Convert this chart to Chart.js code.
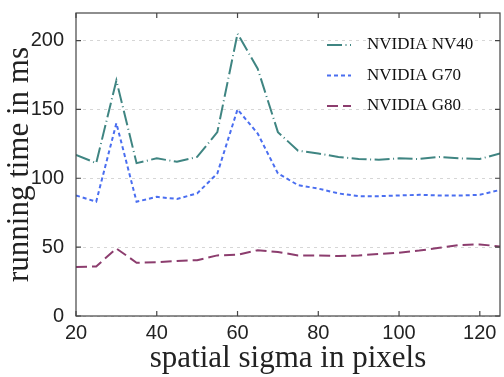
<!DOCTYPE html>
<html>
<head>
<meta charset="utf-8">
<script src="https://cdn.jsdelivr.net/npm/chart.js@4.4.1/dist/chart.umd.min.js"></script>
<style>
    html, body { margin: 0; padding: 0; background: #fff; }
    #wrap { width: 504px; height: 377px; }
</style>
</head>
<body>
<div id="wrap"><canvas id="timingChart" width="504" height="377"></canvas></div>
<script>
// spatial sigma (pixels) sampled every 5
const sigmas = [20, 25, 30, 35, 40, 45, 50, 55, 60, 65, 70, 75, 80, 85, 90, 95, 100, 105, 110, 115, 120, 125];

// running times in ms
const nv40 = [117, 111, 171, 111, 114.5, 112, 115.5, 133.5, 205, 179.5, 133.5, 120, 118, 115.5, 114, 113.5, 114.5, 114, 115.5, 114.5, 114, 118];
const g70  = [87.5, 83, 140, 83, 86.5, 85, 89, 103.5, 150, 132.5, 103.5, 95, 92.5, 89, 87, 87, 87.5, 88, 87.5, 87.5, 88, 91.5];
const g80  = [35.5, 36, 49, 38.7, 39, 40, 40.5, 44, 44.5, 47.8, 46.5, 44, 44, 43.5, 44, 45, 46, 47.5, 49.5, 51.5, 52, 50.5];

const seriesNames = ['NVIDIA NV40', 'NVIDIA G70', 'NVIDIA G80'];
const xTicks = [20, 40, 60, 80, 100, 120];
const yTicks = [0, 50, 100, 150, 200];

const SERIF = '"Liberation Serif", "DejaVu Serif", serif';
const SANS = '"Liberation Sans", Arial, sans-serif';

function toPoints(values) {
    return sigmas.map((s, i) => ({ x: s, y: values[i] }));
}

const lineStyles = [
    { color: '#3f8582', dash: [15, 3.5, 1, 3.5] },
    { color: '#4a6ef0', dash: [4, 3] },
    { color: '#8c3d6e', dash: [11, 5] }
];

// box with inward tick marks, like the original figure
const framePlugin = {
    id: 'frame',
    afterDatasetsDraw(chart) {
        const { ctx, chartArea: a, scales } = chart;
        ctx.save();
        ctx.strokeStyle = '#444';
        ctx.lineWidth = 1.2;
        ctx.setLineDash([]);
        ctx.strokeRect(a.left, a.top, a.right - a.left, a.bottom - a.top);
        const len = 5;
        ctx.beginPath();
        xTicks.forEach(v => {
            const px = scales.x.getPixelForValue(v);
            ctx.moveTo(px, a.bottom); ctx.lineTo(px, a.bottom - len);
            ctx.moveTo(px, a.top); ctx.lineTo(px, a.top + len);
        });
        yTicks.forEach(v => {
            const py = scales.y.getPixelForValue(v);
            ctx.moveTo(a.left, py); ctx.lineTo(a.left + len, py);
            ctx.moveTo(a.right, py); ctx.lineTo(a.right - len, py);
        });
        ctx.stroke();
        ctx.restore();
    }
};

// legend drawn inside the plot, top right
const legendPlugin = {
    id: 'insideLegend',
    afterDraw(chart) {
        const ctx = chart.ctx;
        ctx.save();
        ctx.font = '17px ' + SERIF;
        ctx.textBaseline = 'middle';
        chart.data.datasets.forEach((ds, i) => {
            const y = 45 + i * 30.5;
            ctx.strokeStyle = ds.borderColor;
            ctx.lineWidth = 2;
            ctx.setLineDash(ds.borderDash);
            ctx.beginPath();
            ctx.moveTo(327, y);
            ctx.lineTo(351, y);
            ctx.stroke();
            ctx.setLineDash([]);
            ctx.fillStyle = '#111';
            ctx.fillText(ds.label, 367, y);
        });
        ctx.restore();
    }
};

const datasets = [nv40, g70, g80].map((vals, i) => ({
    label: seriesNames[i],
    data: toPoints(vals),
    borderColor: lineStyles[i].color,
    borderDash: lineStyles[i].dash,
    borderWidth: 2,
    tension: 0,
    pointRadius: 0,
    fill: false
}));

new Chart(document.getElementById('timingChart'), {
    type: 'line',
    data: { datasets },
    plugins: [framePlugin, legendPlugin],
    options: {
        responsive: false,
        animation: false,
        layout: { padding: { top: 13, right: 4, left: 0, bottom: 0 } },
        plugins: {
            legend: { display: false },
            tooltip: { enabled: false }
        },
        scales: {
            x: {
                type: 'linear',
                min: 20,
                max: 125,
                afterBuildTicks: scale => { scale.ticks = xTicks.map(v => ({ value: v })); },
                afterFit: scale => {
                    scale.height = 61;
                    scale.paddingLeft = 0;
                    scale.paddingRight = 0;
                },
                grid: { display: false, drawTicks: false },
                border: { display: false },
                ticks: {
                    color: '#222',
                    font: { family: SANS, size: 20 },
                    padding: 5,
                    maxRotation: 0
                },
                title: {
                    display: true,
                    text: 'spatial sigma in pixels',
                    color: '#222',
                    font: { family: SERIF, size: 31 },
                    padding: 0
                }
            },
            y: {
                min: 0,
                max: 220,
                afterBuildTicks: scale => { scale.ticks = yTicks.map(v => ({ value: v })); },
                afterFit: scale => {
                    scale.width = 76;
                    scale.paddingTop = 0;
                    scale.paddingBottom = 0;
                },
                grid: {
                    color: '#d6d6d6',
                    drawTicks: false
                },
                border: { display: false, dash: [3, 4] },
                ticks: {
                    color: '#222',
                    font: { family: SANS, size: 20 },
                    padding: 12
                },
                title: {
                    display: true,
                    text: 'running time in ms',
                    color: '#222',
                    font: { family: SERIF, size: 31 },
                    padding: 1
                }
            }
        }
    }
});
</script>
</body>
</html>
